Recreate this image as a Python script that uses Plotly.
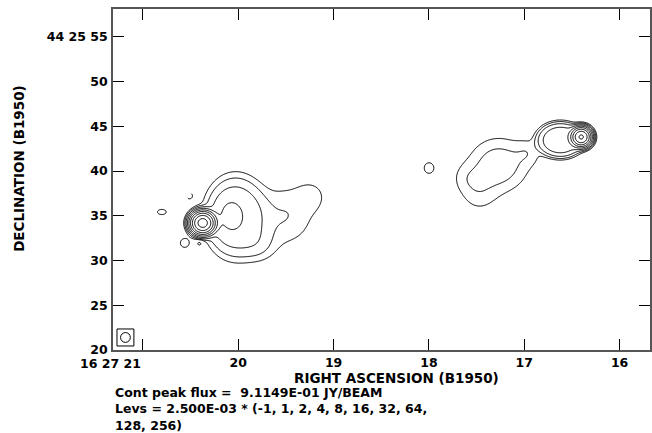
import numpy as np
import plotly.graph_objects as go

# Source components: RA seconds (16h27m..s), Dec arcsec (44d25m..s),
# peak Jy/beam, sigmas in arcsec, profile exponent (1 = Gaussian, >1 = flatter top)
comp_ra   = [20.373, 20.028, 20.101, 19.516, 19.234, 19.776, 20.801, 20.561, 20.509, 20.404,
             16.402, 16.621, 17.269, 17.478, 17.604, 16.955, 17.999]
comp_dec  = [34.19, 34.85, 35.08, 34.97, 37.21, 31.73, 35.42, 31.96, 37.21, 31.96,
             43.80, 43.46, 40.67, 37.32, 39.22, 42.12, 40.33]
comp_amp  = [0.911, 0.018, 0.006, 0.005, 0.003, 0.004, 0.0035, 0.004, -0.004, -0.004,
             0.70, 0.030, 0.0075, 0.003, 0.0025, 0.003, 0.004]
comp_sx   = [0.62, 2.37, 1.0, 2.3, 1.2, 1.3, 0.6, 0.5, 0.35, 0.35,
             0.52, 2.0, 2.2, 1.5, 1.2, 1.0, 0.55]
comp_sy   = [0.58, 3.1, 1.4, 2.3, 1.2, 1.3, 0.35, 0.5, 0.35, 0.35,
             0.50, 1.5, 2.0, 1.5, 1.2, 1.0, 0.60]
comp_pow  = [1, 1.4, 1, 1, 1, 1, 1, 1, 1, 1,
             1, 2, 1, 1, 1, 1, 1]

peak_flux = 0.91149
base_level = 2.5e-3
level_mults = [-1, 1, 2, 4, 8, 16, 32, 64, 128, 256]

x_tick_vals = [21, 20, 19, 18, 17, 16]
x_tick_text = ["16 27 21", "20", "19", "18", "17", "16"]
y_tick_vals = [20, 25, 30, 35, 40, 45, 50, 55]
y_tick_text = ["20", "25", "30", "35", "40", "45", "50", "44 25 55"]

beam_ra, beam_dec = 21.183, 21.40
beam_fwhm = 1.1      # arcsec
beam_box = 1.9       # arcsec (box side)

x_range = [21.3135, 15.6813]
y_range = [20.0, 58.1]

# ---------------- build the brightness field ----------------
cosd = np.cos(np.deg2rad(44.426))
ra = np.linspace(21.25, 15.75, 720)
dec = np.linspace(26.0, 50.0, 290)
RA, DEC = np.meshgrid(ra, dec)
F = np.zeros_like(RA)
for r0, d0, a, sx, sy, p in zip(comp_ra, comp_dec, comp_amp, comp_sx, comp_sy, comp_pow):
    dx = -(RA - r0) * 15.0 * cosd
    dy = DEC - d0
    q = (dx / sx) ** 2 + (dy / sy) ** 2
    F += a * np.exp(-0.5 * q ** p)

pos_levels = [m for m in level_mults if m > 0]
neg_levels = [m for m in level_mults if m < 0]
Lpos = np.log2(np.maximum(F, 1e-12) / base_level)

fig = go.Figure()
fig.add_trace(go.Contour(
    x=ra, y=dec, z=Lpos,
    contours=dict(start=np.log2(pos_levels[0]), end=np.log2(pos_levels[-1]), size=1, coloring="none"),
    line=dict(color="black", width=1, smoothing=1),
    showscale=False, hoverinfo="skip"))
fig.add_trace(go.Contour(
    x=ra, y=dec, z=F,
    contours=dict(start=neg_levels[0] * base_level, end=neg_levels[0] * base_level,
                  size=base_level, coloring="none"),
    line=dict(color="black", width=1, dash="dash", smoothing=1),
    showscale=False, hoverinfo="skip"))

# beam
bh = beam_box / 2.0
br = beam_fwhm / 2.0
fig.add_shape(type="rect", xref="x", yref="y",
              x0=beam_ra + bh / (15 * cosd), x1=beam_ra - bh / (15 * cosd),
              y0=beam_dec - bh, y1=beam_dec + bh, line=dict(color="black", width=1))
fig.add_shape(type="circle", xref="x", yref="y",
              x0=beam_ra + br / (15 * cosd), x1=beam_ra - br / (15 * cosd),
              y0=beam_dec - br, y1=beam_dec + br, line=dict(color="black", width=1))

FONT = "DejaVu Sans"
tickfont = dict(family=FONT, size=12.5, color="black", weight="bold")

fig.update_xaxes(range=x_range, tickvals=x_tick_vals,
                 ticktext=[""] + x_tick_text[1:],
                 ticks="inside", ticklen=11, tickwidth=1, tickcolor="black",
                 showline=True, linecolor="#555", linewidth=1.5, mirror="ticks",
                 showgrid=False, zeroline=False, tickfont=tickfont)
fig.update_yaxes(range=y_range, tickvals=y_tick_vals, ticktext=y_tick_text,
                 ticks="inside", ticklen=11, tickwidth=1, tickcolor="black",
                 showline=True, linecolor="#555", linewidth=1.5, mirror="ticks",
                 showgrid=False, zeroline=False, tickfont=tickfont,
                 ticklabelstandoff=1)

info = ("Cont peak flux =\u00a0\u00a0" + f"{peak_flux:.4E}" + " JY/BEAM<br>"
        + "Levs = " + f"{base_level:.3E}" + " * (" + ", ".join(str(m) for m in level_mults[:8])
        + ",<br>" + ", ".join(str(m) for m in level_mults[8:]) + ")")

ann = [
    dict(x=x_tick_vals[0], xref="x", y=0, yref="paper", text=x_tick_text[0],
         xanchor="right", yanchor="top", yshift=-4, showarrow=False, font=tickfont),
    dict(x=0.5288, xref="paper", y=0, yref="paper", text="RIGHT ASCENSION (B1950)",
         xanchor="center", yanchor="top", yshift=-18, showarrow=False,
         font=dict(family=FONT, size=13.5, color="black", weight="bold")),
    dict(x=0, xref="paper", y=0, yref="paper", text=info, align="left",
         xanchor="left", yanchor="top", yshift=-33, showarrow=False,
         font=dict(family=FONT, size=12.5, color="black", weight="bold")),
    dict(x=-0.1753, xref="paper", y=0.5337, yref="paper", text="DECLINATION (B1950)",
         textangle=-90, xanchor="center", yanchor="middle", showarrow=False,
         font=dict(family=FONT, size=13.5, color="black", weight="bold")),
]

fig.update_layout(width=652, height=433, margin=dict(l=113, r=0, t=9, b=83),
                  plot_bgcolor="white", paper_bgcolor="white", showlegend=False,
                  annotations=ann)

fig.write_html("out.html", config={"displayModeBar": False},
               post_script="document.body.style.margin='0px';document.body.style.padding='0px';")
